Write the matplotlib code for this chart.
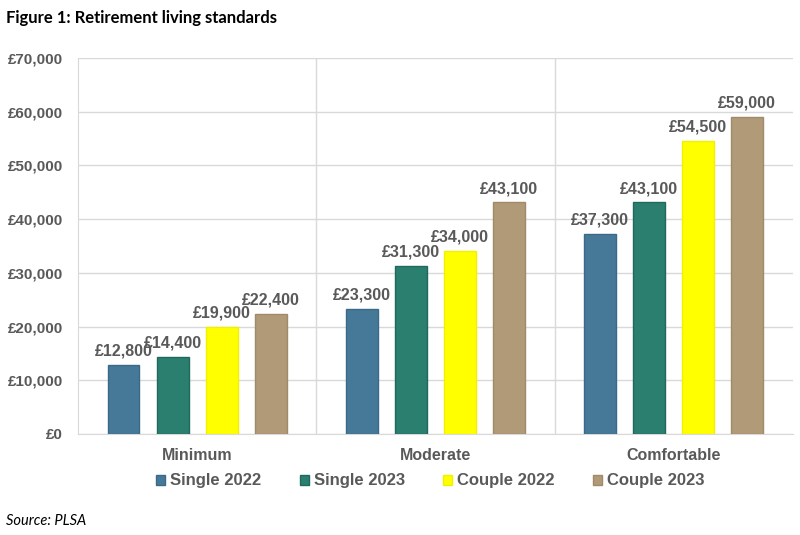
import matplotlib
matplotlib.use('Agg')
import numpy as np
from matplotlib import pyplot as plt
import matplotlib.ticker as mtick

categories = ['Minimum', 'Moderate', 'Comfortable']
series = ['Single 2022', 'Single 2023', 'Couple 2022', 'Couple 2023']
values = {
    'Single 2022': [12800, 23300, 37300],
    'Single 2023': [14400, 31300, 43100],
    'Couple 2022': [19900, 34000, 54500],
    'Couple 2023': [22400, 43100, 59000],
}
colors = ['#467898', '#2a7f6f', '#ffff00', '#b09a78']
edges = ['#3a6a88', '#1f6a5c', '#f0f000', '#a08a68']

plt.rcParams['font.family'] = ['Liberation Sans', 'DejaVu Sans']
grey = '#595959'

fig = plt.figure(figsize=(8, 5.35), dpi=100)
ax = fig.add_axes([0.0975, 0.1888, 0.8935, 0.7028])

x = np.arange(len(categories))
width = 0.134
step = 0.206
for i, s in enumerate(series):
    pos = x + (i - 1.5) * step
    bars = ax.bar(pos, values[s], width, color=colors[i], edgecolor=edges[i],
                  linewidth=1, label=s, zorder=3)
    for b, v in zip(bars, values[s]):
        ax.text(b.get_x() + b.get_width() / 2, v + 1200, '£{:,}'.format(v),
                ha='center', va='bottom', fontsize=11.5, fontweight='bold', color=grey, zorder=4)

ax.set_xlim(-0.5, 2.5)
ax.set_ylim(0, 70000)
ax.set_yticks(np.arange(0, 70001, 10000))
ax.yaxis.set_major_formatter(mtick.FuncFormatter(lambda v, p: '£{:,.0f}'.format(v)))
ax.set_xticks(x)
ax.set_xticklabels(categories)
ax.grid(axis='y', color='#d9d9d9', linewidth=1, zorder=0)
for b in [0.5, 1.5]:
    ax.axvline(b, color='#d9d9d9', linewidth=1, zorder=0)
for sp in ['top', 'right']:
    ax.spines[sp].set_visible(False)
ax.spines['left'].set_color('#d9d9d9')
ax.spines['bottom'].set_color('#d9d9d9')
ax.tick_params(axis='y', length=0, labelsize=11, colors=grey, pad=11)
ax.tick_params(axis='x', length=0, labelsize=11.5, colors=grey, pad=10)
for t in ax.get_xticklabels() + ax.get_yticklabels():
    t.set_fontweight('bold')

leg = ax.legend(loc='upper center', bbox_to_anchor=(0.493, -0.065), ncol=4, frameon=False,
                handlelength=0.55, handleheight=0.55, handletextpad=0.3, columnspacing=2.3,
                prop={'size': 12, 'weight': 'bold'})
for t in leg.get_texts():
    t.set_color(grey)

fig.text(0.008, 0.967, 'Figure 1: Retirement living standards', fontsize=12, fontweight='bold',
         family=['Lato', 'DejaVu Sans'], va='center')
fig.text(0.008, 0.027, 'Source: PLSA', fontsize=10.5, style='italic', family=['Lato', 'DejaVu Sans'],
         va='center')

plt.savefig('out.png', dpi=100)
